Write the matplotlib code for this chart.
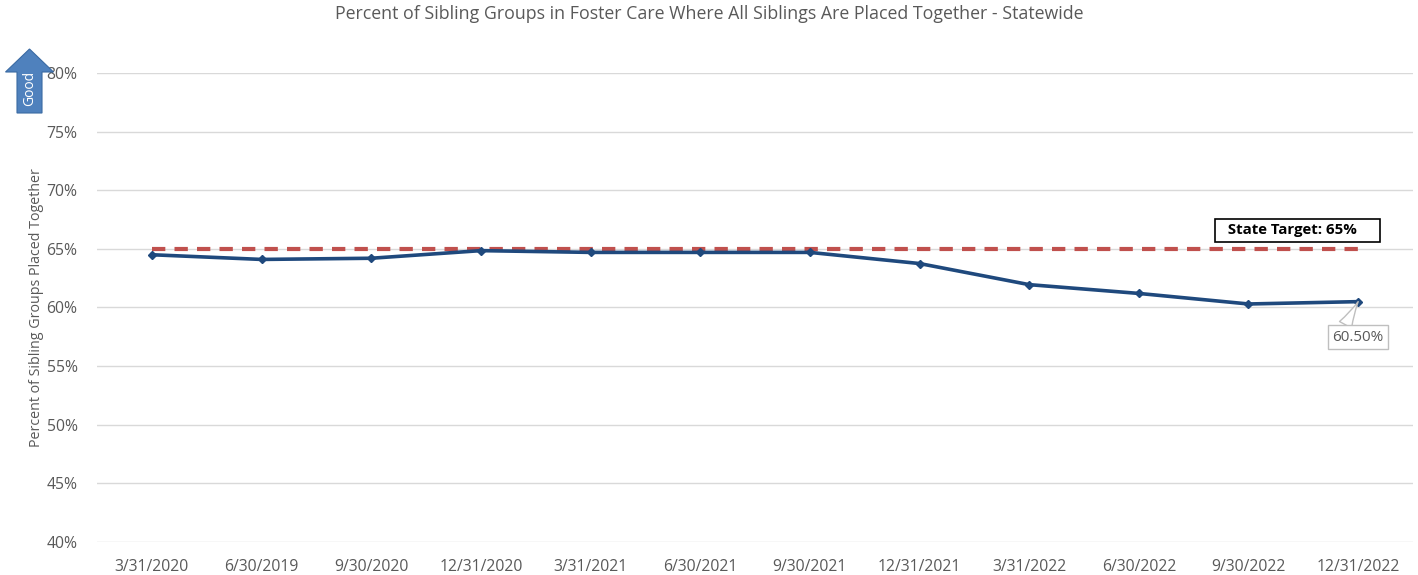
import matplotlib
matplotlib.use("Agg")
import matplotlib.pyplot as plt
from matplotlib.patches import FancyArrow
from matplotlib.ticker import PercentFormatter

quarters = ["3/31/2020", "6/30/2019", "9/30/2020", "12/31/2020", "3/31/2021", "6/30/2021",
            "9/30/2021", "12/31/2021", "3/31/2022", "6/30/2022", "9/30/2022", "12/31/2022"]
pct_together = [64.5, 64.1, 64.2, 64.85, 64.7, 64.7, 64.7, 63.75, 61.95, 61.2, 60.3, 60.5]
target = 65
yticks = [40, 45, 50, 55, 60, 65, 70, 75, 80]

plt.rcParams['font.family'] = ['Open Sans', 'DejaVu Sans']
text_gray = "#595959"

fig = plt.figure(figsize=(14.18, 5.75), dpi=100)
ax = fig.add_axes([97/1418, 1-542/575, (1413-97)/1418, (542-73)/575])

x = list(range(len(quarters)))
ax.plot(x, [target]*len(x), color="#c0504d", lw=3, ls=(0, (3.2, 2.2)), zorder=2)
ax.plot(x, pct_together, color="#1f497d", lw=2.6, marker="D", ms=4, zorder=3)

ax.set_xlim(-0.5, len(x) - 0.5)
ax.set_ylim(40, 80)
ax.set_yticks(yticks)
ax.yaxis.set_major_formatter(PercentFormatter(decimals=0))
ax.set_xticks(x)
ax.set_xticklabels(quarters)
ax.grid(axis="y", color="#d9d9d9", lw=1)
ax.set_axisbelow(True)
for s in ax.spines.values():
    s.set_visible(False)
ax.tick_params(length=0, labelsize=11.3, labelcolor=text_gray, pad=12)
ax.tick_params(axis="y", pad=14)

ax.set_ylabel("Percent of Sibling Groups Placed Together", fontsize=10.3, color=text_gray, labelpad=2)
fig.text(0.5, 1-14/575, "Percent of Sibling Groups in Foster Care Where All Siblings Are Placed Together - Statewide",
         ha="center", va="center", fontsize=12.8, color=text_gray)

# target label (extra spaces widen the box like the original text box)
ax.text(10.45, 66.6, "  State Target: 65%     ", ha="center", va="center", fontsize=10.8,
        fontweight="bold", color="black",
        bbox=dict(boxstyle="square,pad=0.3", fc="white", ec="black", lw=1.2))

# last value callout
ax.annotate(f"{pct_together[-1]:.2f}%", xy=(x[-1], pct_together[-1]), xytext=(x[-1], 57.45),
            ha="center", va="center", fontsize=11, color=text_gray,
            bbox=dict(boxstyle="square,pad=0.3", fc="white", ec="#bfbfbf", lw=1),
            arrowprops=dict(arrowstyle="wedge,tail_width=0.9,shrink_factor=0.4",
                            fc="white", ec="#bfbfbf", lw=1, shrinkA=0, shrinkB=0,
                            relpos=(0.2, 1.0)))

# "Good" arrow
arr = FancyArrow(29.5/1418, 1-113/575, 0, 64/575, width=25/1418, head_width=48/1418,
                 head_length=23/575, length_includes_head=True, transform=fig.transFigure,
                 fc="#4f81bd", ec="#3a6aa3", lw=0.8)
fig.patches.append(arr)
fig.text(30/1418, 1-88/575, "Good", rotation=90, ha="center", va="center", fontsize=10, color="white")

fig.savefig("out.png", dpi=100)
